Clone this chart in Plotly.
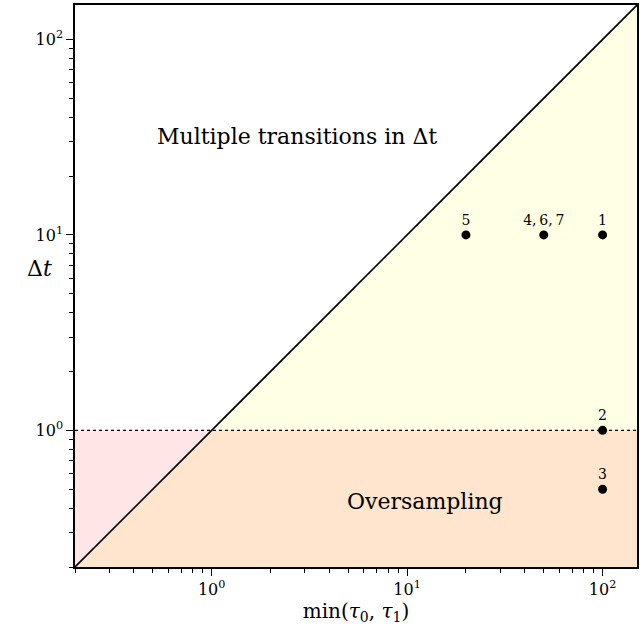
import math
import plotly.graph_objects as go

# data
tau_min = [100, 100, 100, 50, 20]
delta_t = [10, 1, 0.5, 10, 10]
point_labels = ["1", "2", "3", "4,\u20096,\u20097", "5"]

axis_lim = [0.2, 150]
dt_threshold = 1
region_labels = ["Multiple transitions in Δt", "Oversampling"]
region_pos_x = [2.72, 12.3]
region_pos_y = [31.9, 0.433]
major_tickvals = [1, 10, 100]
major_ticktext = ["10<sup>0</sup>", "10<sup>1</sup>", "10<sup>2</sup>"]
minor_tickvals = [m * 10 ** e for e in range(-1, 3) for m in range(2, 10)]

FONT = "DejaVu Serif"
lo, hi = axis_lim

fig = go.Figure()
fig.add_trace(go.Scatter(x=[lo, hi, hi, lo], y=[lo, hi, lo, lo], fill="toself",
                         fillcolor="rgba(255,255,0,0.1)", line=dict(width=0),
                         mode="lines", hoverinfo="skip", showlegend=False))
fig.add_trace(go.Scatter(x=[lo, hi, hi, lo, lo], y=[lo, lo, dt_threshold, dt_threshold, lo],
                         fill="toself", fillcolor="rgba(255,0,0,0.1)", line=dict(width=0),
                         mode="lines", hoverinfo="skip", showlegend=False))
fig.add_trace(go.Scatter(x=axis_lim, y=axis_lim, mode="lines",
                         line=dict(color="black", width=1.6), showlegend=False))
fig.add_trace(go.Scatter(x=axis_lim, y=[dt_threshold, dt_threshold], mode="lines",
                         line=dict(color="black", width=1.4, dash="dot"), showlegend=False))
fig.add_trace(go.Scatter(x=tau_min, y=delta_t, mode="markers+text", text=point_labels,
                         textposition="top center",
                         textfont=dict(family=FONT, size=14, color="black"),
                         marker=dict(color="black", size=9), showlegend=False))

for t, xx, yy in zip(region_labels, region_pos_x, region_pos_y):
    fig.add_annotation(x=math.log10(xx), y=math.log10(yy), xref="x", yref="y",
                       text=t, showarrow=False,
                       font=dict(family=FONT, size=22, color="black"))

fig.add_annotation(x=-0.089, y=0.532, xref="paper", yref="paper", text="Δ<i>t</i>",
                   showarrow=False, font=dict(family=FONT, size=22, color="black"))

rng = [math.log10(lo), math.log10(hi)]
axis_common = dict(type="log", range=rng, showgrid=False, zeroline=False, automargin=False,
                   showline=True, linecolor="black", linewidth=1.5, mirror=True,
                   ticks="outside", ticklen=7, tickwidth=1.2, tickcolor="black",
                   tickvals=major_tickvals, ticktext=major_ticktext,
                   tickfont=dict(family=FONT, size=16, color="black"),
                   minor=dict(ticks="outside", ticklen=4, tickwidth=1, tickcolor="black",
                              tickvals=minor_tickvals, showgrid=False))
fig.update_xaxes(**axis_common,
                 title=dict(text="min(<i>τ</i><sub>0</sub>, <i>τ</i><sub>1</sub>)",
                            font=dict(family=FONT, size=20, color="black"), standoff=4))
fig.update_yaxes(**axis_common)

fig.update_layout(width=641, height=630, margin=dict(l=75, r=4, t=5, b=63),
                  plot_bgcolor="white", paper_bgcolor="white")
fig.write_html("out.html", config={"displayModeBar": False},
               post_script="document.body.style.margin='0';")
